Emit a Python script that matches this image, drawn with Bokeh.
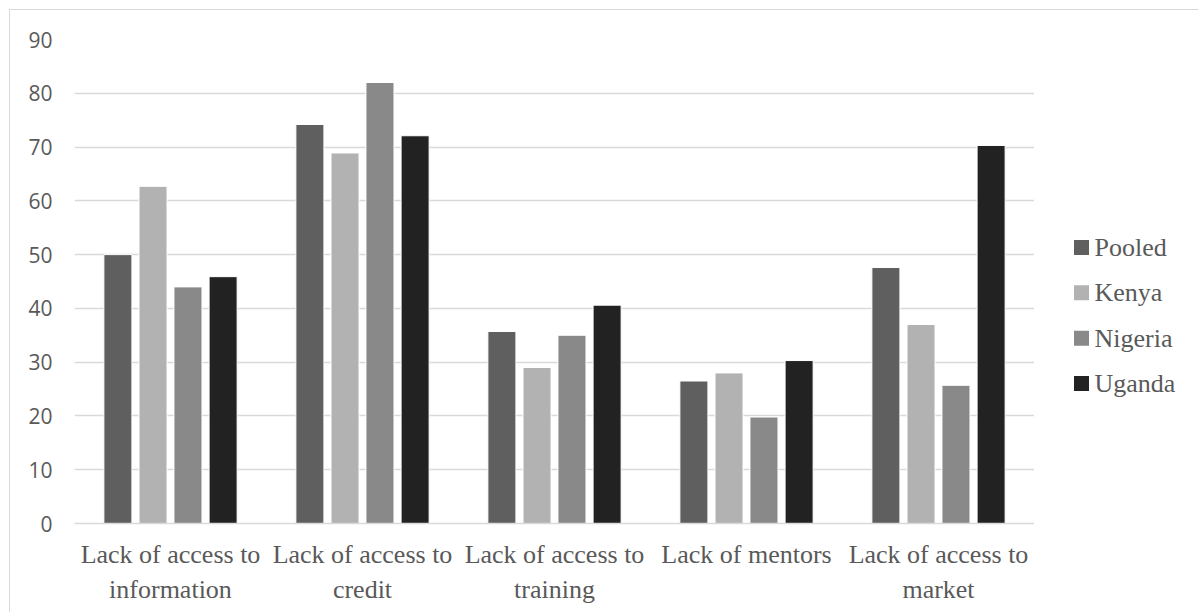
from bokeh.plotting import figure
from bokeh.models import (Range1d, SingleIntervalTicker, LinearAxis,
                          FixedTicker, ColumnDataSource)
from bokeh.layouts import row
from bokeh.core.properties import value
from bokeh.transform import dodge
from bokeh.embed import file_html
from bokeh.resources import INLINE

categories = ["Lack of access to information", "Lack of access to credit",
              "Lack of access to training", "Lack of mentors", "Lack of access to market"]
label_line1 = ["Lack of access to", "Lack of access to", "Lack of access to",
               "Lack of mentors", "Lack of access to"]
label_line2 = ["information", "credit", "training", "", "market"]
series = ["Pooled", "Kenya", "Nigeria", "Uganda"]
pooled = [50.0, 74.2, 35.7, 26.5, 47.6]
kenya = [62.7, 68.9, 29.0, 28.0, 37.0]
nigeria = [44.0, 82.0, 35.0, 19.8, 25.7]
uganda = [45.9, 72.1, 40.6, 30.3, 70.3]
colors = ["#5f5f5f", "#b2b2b2", "#898989", "#222222"]

GRID = "#d9d9d9"
TEXT = "#595959"
SERIF = "Liberation Serif"

# category slot centres (each category occupies one unit of the x range)
pos = [i + 0.5 for i in range(len(categories))]
data = dict(cat=categories, pos=pos, Pooled=pooled, Kenya=kenya, Nigeria=nigeria, Uganda=uganda)

p = figure(width=1024, height=602, x_range=Range1d(0, len(categories)),
           y_range=Range1d(0, 90), output_backend="svg", toolbar_location=None,
           min_border_left=64, min_border_right=0, min_border_top=29, min_border_bottom=89)
p.outline_line_color = None

offsets = [-0.274, -0.091, 0.091, 0.274]
for s, c, off in zip(series, colors, offsets):
    p.vbar(x=dodge("pos", off), top=s, width=0.146, source=data,
           fill_color=c, line_color="white", line_width=1)

p.xgrid.grid_line_color = None
p.ygrid.grid_line_color = GRID
p.ygrid.grid_line_width = 1.5

p.yaxis.ticker = SingleIntervalTicker(interval=10)
p.yaxis.axis_line_color = None
p.yaxis.major_tick_line_color = None
p.yaxis.minor_tick_line_color = None
p.yaxis.major_tick_out = 0
p.yaxis.minor_tick_out = 0
p.yaxis.major_label_text_font = "Open Sans"
p.yaxis.major_label_text_font_size = "21px"
p.yaxis.major_label_text_color = TEXT
p.yaxis.major_label_standoff = 22

p.xaxis.visible = False

def label_axis(lines, standoff, line_color):
    ax = LinearAxis(ticker=FixedTicker(ticks=pos))
    ax.major_label_overrides = {t: s for t, s in zip(pos, lines)}
    ax.axis_line_color = line_color
    ax.axis_line_width = 1.5
    ax.major_tick_line_color = None
    ax.minor_tick_line_color = None
    ax.major_tick_out = 0
    ax.minor_tick_out = 0
    ax.major_tick_in = 0
    ax.major_label_text_font = SERIF
    ax.major_label_text_font_size = "26px"
    ax.major_label_text_color = TEXT
    ax.major_label_standoff = standoff
    return ax

p.add_layout(label_axis(label_line1, 16, GRID), "below")
p.add_layout(label_axis(label_line2, 3, None), "below")

# legend panel (its frame is aligned with the main frame by the row layout)
lg = figure(width=164, height=602, x_range=Range1d(0, 164), y_range=Range1d(6.092, -4.592),
            output_backend="svg", toolbar_location=None,
            min_border_left=0, min_border_right=0, min_border_top=0, min_border_bottom=0)
lg.axis.visible = False
lg.grid.visible = False
lg.outline_line_color = None
leg_src = ColumnDataSource(dict(name=series, idx=list(range(len(series))), color=colors,
                                gx=[47] * len(series), tx=[60] * len(series)))
lg.rect(x="gx", y="idx", width=15, height=15, width_units="screen", height_units="screen",
        fill_color="color", line_color=None, source=leg_src)
lg.text(x="tx", y="idx", text="name", source=leg_src, text_font=value(SERIF),
        text_font_size="26px", text_color=TEXT, text_baseline="middle", text_align="left")

layout = row(p, lg)
layout.styles = {"margin-left": "9px", "margin-top": "9px",
                 "border-left": "1px solid #d9d9d9", "border-top": "1px solid #d9d9d9"}

open("out.html", "w").write(file_html(layout, INLINE))
